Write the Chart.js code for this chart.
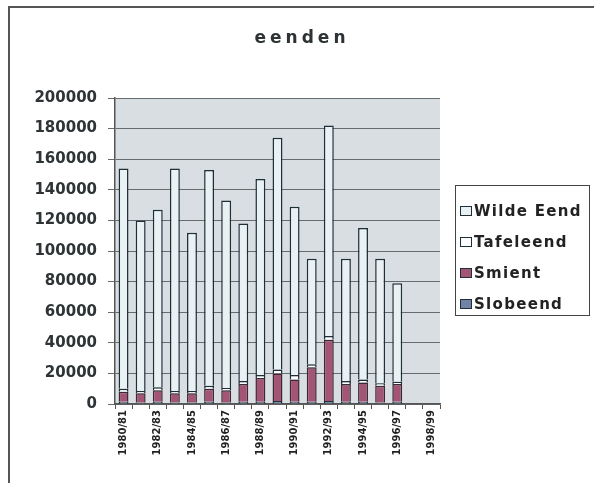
<!DOCTYPE html>
<html>
<head>
<title>eenden</title>
<script src="https://cdn.jsdelivr.net/npm/chart.js"></script>
<style>
body { margin: 0; background: #fff; font-family: "DejaVu Sans", Arial, sans-serif; }
.frame { position: absolute; left: 8px; top: 6px; width: 586px; height: 477px; border-top: 2px solid #555; border-left: 2px solid #555; box-sizing: border-box; }
.chart-container { position: absolute; left: 0; top: 0; width: 594px; height: 483px; }
#legend { position: absolute; left: 455px; top: 185px; width: 135px; height: 131px; border: 1.5px solid #444; box-sizing: border-box; padding-top: 9px; }
#legend div { height: 31px; font-weight: bold; font-size: 15px; letter-spacing: 1.3px; color: #222; display: flex; align-items: center; padding-left: 4px; white-space: nowrap; }
#legend span.sw { display: inline-block; width: 10px; height: 8px; border: 1.5px solid #1f2f3a; margin-right: 2px; flex: none; }
</style>
</head>
<body>
<div class="frame"></div>
<div class="chart-container">
<canvas id="eendenChart" width="594" height="483"></canvas>
</div>
<div id="legend"></div>
<script>
const seizoenen = ['1980/81', '1981/82', '1982/83', '1983/84', '1984/85', '1985/86', '1986/87', '1987/88', '1988/89', '1989/90',
  '1990/91', '1991/92', '1992/93', '1993/94', '1994/95', '1995/96', '1996/97', '1997/98', '1998/99'];
const slobeend = [1500, 1000, 1500, 1000, 1000, 1500, 1000, 1500, 1500, 2000, 1500, 1500, 2000, 1500, 1500, 1000, 1500, null, null];
const smient = [6500, 6000, 7500, 6000, 6000, 8500, 8000, 11500, 15500, 18000, 14500, 22500, 40000, 11500, 12500, 11000, 11500, null, null];
const tafeleend = [2000, 1500, 2000, 1500, 1500, 2000, 1500, 2000, 2000, 2500, 3000, 2000, 2500, 2000, 2000, 1500, 1500, null, null];
const wildeEend = [144000, 111500, 116000, 145500, 103500, 141000, 122500, 103000, 128000, 151500, 110000, 69000, 137500, 80000, 99000, 81500, 64500, null, null];
const yTicks = [0, 20000, 40000, 60000, 80000, 100000, 120000, 140000, 160000, 180000, 200000];

const plotBackground = {
  id: 'plotBackground',
  beforeDraw(chart) {
    const a = chart.chartArea, c = chart.ctx;
    c.save();
    c.fillStyle = '#d8dee1';
    c.fillRect(a.left, a.top, a.right - a.left, a.bottom - a.top);
    c.restore();
  },
  afterDraw(chart) {
    const c = chart.ctx;
    c.save();
    c.font = 'bold 17px "DejaVu Sans"';
    c.fillStyle = '#2e3336';
    c.textAlign = 'center';
    c.textBaseline = 'middle';
    c.letterSpacing = '4px';
    c.fillText('eenden', 302, 39);
    c.restore();
  }
};

const ds = (label, data, fill, border) => ({
  label: label, data: data, backgroundColor: fill, borderColor: border, borderWidth: 1.5,
  barPercentage: 0.58, categoryPercentage: 1.0
});

const ctx = document.getElementById('eendenChart').getContext('2d');
const chart = new Chart(ctx, {
  type: 'bar',
  data: {
    labels: seizoenen,
    datasets: [
      ds('Slobeend', slobeend, '#6f83a6', '#1f2f3a'),
      ds('Smient', smient, '#a45474', '#3a2a35'),
      ds('Tafeleend', tafeleend, '#ffffff', '#1f2f3a'),
      ds('Wilde Eend', wildeEend, '#e9f1f3', '#1f2f3a')
    ]
  },
  options: {
    responsive: false,
    animation: false,
    layout: { padding: { left: 8, right: 154, top: 98, bottom: 18 } },
    scales: {
      x: {
        stacked: true,
        grid: { offset: true, drawOnChartArea: false, drawTicks: true, tickLength: 5, color: '#555' },
        border: { color: '#555', width: 1.5 },
        ticks: {
          autoSkip: false, minRotation: 90, maxRotation: 90, padding: 1,
          color: '#222', font: { family: 'DejaVu Sans', size: 10, weight: 'bold' },
          callback: (v, i) => i % 2 === 0 ? seizoenen[i] : ''
        },
        afterFit: s => { s.height = 61; }
      },
      y: {
        stacked: true, min: 0, max: 200000,
        afterBuildTicks: s => { s.ticks = yTicks.map(v => ({ value: v })); },
        grid: { color: '#666b6e', lineWidth: 1, tickLength: 7 },
        border: { color: '#555', width: 1.5 },
        ticks: {
          color: '#2e3336', padding: 11, font: { family: 'DejaVu Sans', size: 15, weight: 'bold' },
          callback: v => String(v)
        },
        afterFit: s => { s.width = 107; }
      }
    },
    plugins: {
      legend: { display: false },
      title: { display: false },
      tooltip: { enabled: false }
    }
  },
  plugins: [plotBackground]
});

const legend = document.getElementById('legend');
chart.data.datasets.slice().reverse().forEach(d => {
  const row = document.createElement('div');
  row.innerHTML = '<span class="sw" style="background:' + d.backgroundColor + '"></span>' + d.label;
  legend.appendChild(row);
});
</script>
</body>
</html>
